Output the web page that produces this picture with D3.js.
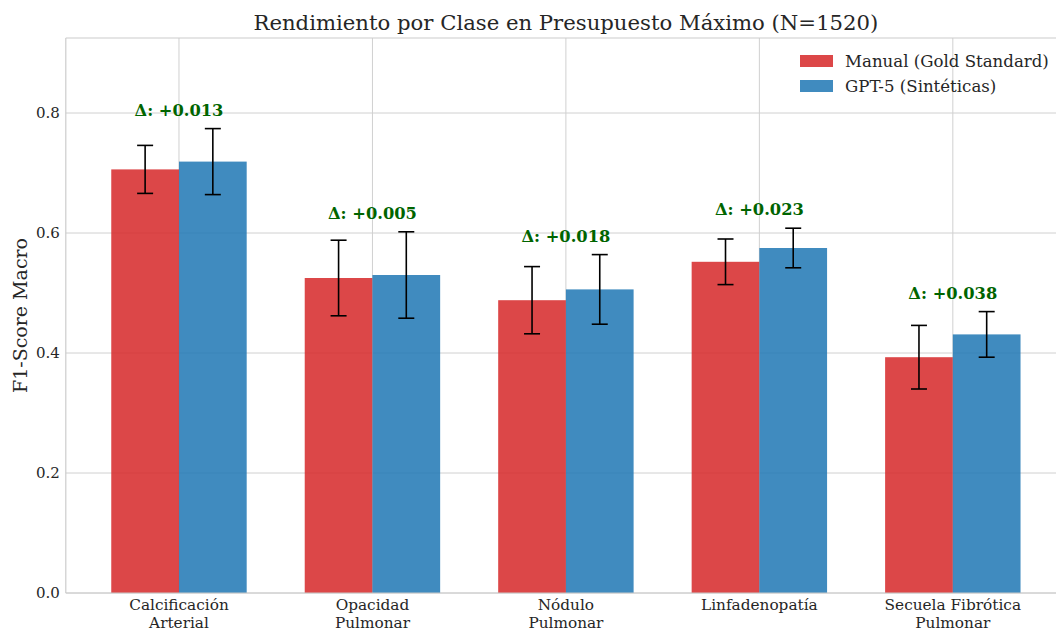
<!DOCTYPE html>
<html><head><meta charset="utf-8">
<script src="https://cdn.jsdelivr.net/npm/d3@7"></script>
<style>body{margin:0;background:#fff}svg{display:block;font-family:"DejaVu Serif",serif}</style>
</head><body><svg id="c" width="1056" height="631"></svg>
<script>
const categories = [["Calcificación","Arterial"],["Opacidad","Pulmonar"],["Nódulo","Pulmonar"],["Linfadenopatía"],["Secuela Fibrótica","Pulmonar"]];
const manualValues = [0.706, 0.525, 0.488, 0.552, 0.393];
const manualErrors = [0.040, 0.063, 0.056, 0.038, 0.053];
const gptValues = [0.719, 0.530, 0.506, 0.575, 0.431];
const gptErrors = [0.055, 0.072, 0.058, 0.033, 0.038];
const deltaLabels = ["Δ: +0.013","Δ: +0.005","Δ: +0.018","Δ: +0.023","Δ: +0.038"];
const yTicks = [0.0, 0.2, 0.4, 0.6, 0.8];
const seriesNames = ["Manual (Gold Standard)", "GPT-5 (Sintéticas)"];
const colors = ["#d62728", "#1f77b4"];

const svg = d3.select("#c");
const L = 65.8, R = 1066, T = 38, B = 593;
const barW = 0.35;
const x = d3.scaleLinear().domain([-0.585, 4.585]).range([L, R]);
const y = d3.scaleLinear().domain([0, 0.925]).range([B, T]);

// grid
svg.append("g").selectAll("line").data(yTicks).join("line")
  .attr("x1", L).attr("x2", R).attr("y1", d => y(d)).attr("y2", d => y(d))
  .attr("stroke", "#d0d0d0").attr("stroke-width", 1);
svg.append("g").selectAll("line").data(categories.map((c,i)=>i)).join("line")
  .attr("x1", d => x(d)).attr("x2", d => x(d)).attr("y1", T).attr("y2", B)
  .attr("stroke", "#d0d0d0").attr("stroke-width", 1);

// bars
const series = [
  {vals: manualValues, errs: manualErrors, off: -barW/2, color: colors[0]},
  {vals: gptValues, errs: gptErrors, off: barW/2, color: colors[1]}
];
series.forEach(s => {
  const g = svg.append("g");
  g.selectAll("rect").data(s.vals).join("rect")
    .attr("x", (d,i) => x(i + s.off - barW/2))
    .attr("width", x(barW) - x(0))
    .attr("y", d => y(d)).attr("height", d => y(0) - y(d))
    .attr("fill", s.color).attr("fill-opacity", 0.85);
});
series.forEach(s => {
  const g = svg.append("g").attr("stroke", "#000").attr("stroke-width", 1.6);
  s.vals.forEach((v,i) => {
    const cx = x(i + s.off);
    g.append("line").attr("x1", cx).attr("x2", cx).attr("y1", y(v + s.errs[i])).attr("y2", y(v - s.errs[i]));
    [v + s.errs[i], v - s.errs[i]].forEach(e => {
      g.append("line").attr("x1", cx - 8).attr("x2", cx + 8).attr("y1", y(e)).attr("y2", y(e));
    });
  });
});

// delta labels
svg.append("g").selectAll("text").data(deltaLabels).join("text")
  .attr("x", (d,i) => x(i))
  .attr("y", (d,i) => y(Math.max(manualValues[i] + manualErrors[i], gptValues[i] + gptErrors[i]) + 0.02) - 1)
  .attr("text-anchor", "middle").attr("font-size", 16.3).attr("font-weight", "bold")
  .attr("fill", "#006400").text(d => d);

// spines
svg.append("line").attr("x1", L).attr("x2", L).attr("y1", T).attr("y2", B).attr("stroke", "#cccccc").attr("stroke-width", 1.2);
svg.append("line").attr("x1", L).attr("x2", R).attr("y1", B).attr("y2", B).attr("stroke", "#cccccc").attr("stroke-width", 1.2);
svg.append("line").attr("x1", L).attr("x2", R).attr("y1", T).attr("y2", T).attr("stroke", "#cccccc").attr("stroke-width", 1.2);

// y ticks
svg.append("g").selectAll("text").data(yTicks).join("text")
  .attr("x", L - 6).attr("y", d => y(d)).attr("dy", "0.35em")
  .attr("text-anchor", "end").attr("font-size", 15).attr("fill", "#262626")
  .text(d => d.toFixed(1));

// x labels
const xl = svg.append("g");
categories.forEach((c,i) => {
  const t = xl.append("text").attr("x", x(i)).attr("y", B + 17).attr("text-anchor", "middle")
    .attr("font-size", 15.3).attr("fill", "#262626");
  c.forEach((line, j) => t.append("tspan").attr("x", x(i)).attr("dy", j === 0 ? 0 : 18).text(line));
});

// y label
svg.append("text").attr("transform", `translate(27,${(T+B)/2}) rotate(-90)`)
  .attr("text-anchor", "middle").attr("font-size", 19).attr("fill", "#262626").text("F1-Score Macro");

// title
svg.append("text").attr("x", (L + R) / 2).attr("y", 30).attr("text-anchor", "middle")
  .attr("font-size", 21.2).attr("fill", "#262626").text("Rendimiento por Clase en Presupuesto Máximo (N=1520)");

// legend
const lg = svg.append("g");
seriesNames.forEach((n, i) => {
  lg.append("rect").attr("x", 800).attr("y", 55 + i * 25).attr("width", 33).attr("height", 12)
    .attr("fill", colors[i]).attr("fill-opacity", 0.85);
  lg.append("text").attr("x", 845).attr("y", 61 + i * 25).attr("dy", "0.35em")
    .attr("font-size", 16.6).attr("fill", "#262626").text(n);
});
</script></body></html>
